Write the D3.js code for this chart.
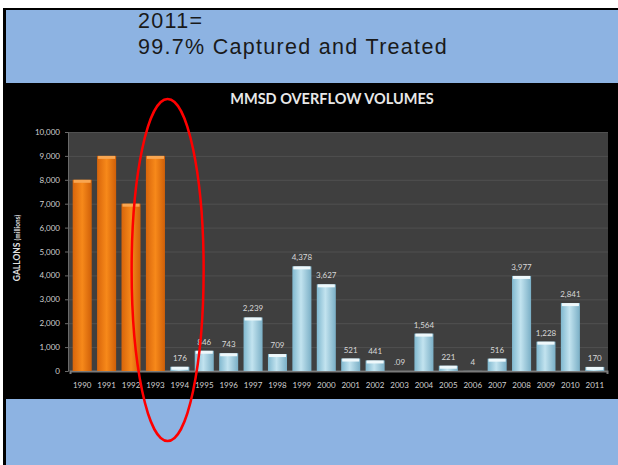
<!DOCTYPE html>
<html>
<head>
<meta charset="utf-8">
<script src="https://cdn.jsdelivr.net/npm/d3@7"></script>
<style>
  body { margin: 0; background: #fff; }
  svg { display: block; }
</style>
</head>
<body>
<svg id="chart" width="618" height="465"></svg>
<script>
// data
const years = ['1990', '1991', '1992', '1993', '1994', '1995', '1996', '1997', '1998', '1999', '2000',
  '2001', '2002', '2003', '2004', '2005', '2006', '2007', '2008', '2009', '2010', '2011'];
const volumes = [8000, 9000, 7000, 9000, 176, 846, 743, 2239, 709, 4378, 3627,
  521, 441, 0.09, 1564, 221, 4, 516, 3977, 1228, 2841, 170];
const valueLabels = ['', '', '', '', '176', '846', '743', '2,239', '709', '4,378', '3,627',
  '521', '441', '.09', '1,564', '221', '4', '516', '3,977', '1,228', '2,841', '170'];
const orangeYears = ['1990', '1991', '1992', '1993'];
const yTicks = [0, 1000, 2000, 3000, 4000, 5000, 6000, 7000, 8000, 9000, 10000];
const headline = ['2011=', '99.7% Captured and Treated'];
const chartTitle = 'MMSD OVERFLOW VOLUMES';

const svg = d3.select('#chart');
const W = 618, H = 465;

// slide background: black frame, blue boxes above and below the chart
svg.append('rect').attr('x', 3).attr('y', 8).attr('width', W - 3).attr('height', H - 8).attr('fill', '#000');
svg.append('rect').attr('x', 6).attr('y', 10).attr('width', W - 6).attr('height', 73).attr('fill', '#8db3e2');
svg.append('rect').attr('x', 6).attr('y', 399).attr('width', W - 6).attr('height', H - 399).attr('fill', '#8db3e2');

const head = svg.append('text')
  .attr('font-family', '"Liberation Sans", Arial, sans-serif')
  .attr('font-size', 21.5)
  .attr('letter-spacing', 1.3)
  .attr('fill', '#1a1a1a');
head.selectAll('tspan')
  .data(headline)
  .enter().append('tspan')
  .attr('x', 138)
  .attr('y', (d, i) => 28 + i * 26)
  .text(d => d);

// chart
const plot = {left: 68, right: 608, top: 132, bottom: 371};

const defs = svg.append('defs');
const blue = defs.append('linearGradient').attr('id', 'gBlue').attr('x1', 0).attr('x2', 1).attr('y1', 0).attr('y2', 0);
blue.append('stop').attr('offset', '0%').attr('stop-color', '#80b8cf');
blue.append('stop').attr('offset', '45%').attr('stop-color', '#c2e3ef');
blue.append('stop').attr('offset', '100%').attr('stop-color', '#7aafc6');
const orange = defs.append('linearGradient').attr('id', 'gOrange').attr('x1', 0).attr('x2', 1).attr('y1', 0).attr('y2', 0);
orange.append('stop').attr('offset', '0%').attr('stop-color', '#d8650b');
orange.append('stop').attr('offset', '50%').attr('stop-color', '#f7891a');
orange.append('stop').attr('offset', '100%').attr('stop-color', '#cf5f08');

const x = d3.scaleBand()
  .domain(years)
  .range([plot.left + 2, plot.right - 1])
  .paddingInner(0.22)
  .paddingOuter(0.11);

const y = d3.scaleLinear()
  .domain([0, 10000])
  .range([plot.bottom, plot.top]);

svg.append('rect')
  .attr('x', plot.left).attr('y', plot.top)
  .attr('width', plot.right - plot.left).attr('height', plot.bottom - plot.top)
  .attr('fill', '#3f3f3f');

// gridlines
svg.append('g')
  .selectAll('line')
  .data(yTicks.slice(1))
  .enter().append('line')
  .attr('x1', plot.left).attr('x2', plot.right)
  .attr('y1', d => y(d) + 0.5).attr('y2', d => y(d) + 0.5)
  .attr('stroke', '#505050');

const axisY = d3.axisLeft(y).tickValues(yTicks).tickFormat(d3.format(',')).tickSize(3).tickPadding(5);
const gy = svg.append('g')
  .attr('transform', `translate(${plot.left},0)`)
  .call(axisY);
gy.select('.domain').attr('stroke', '#6a6a6a');
gy.selectAll('.tick line').attr('stroke', '#6a6a6a');
gy.selectAll('.tick text')
  .attr('fill', '#d0d0d0')
  .attr('font-family', 'Lato, sans-serif')
  .attr('font-size', 8);

const axisX = d3.axisBottom(x).tickSize(3).tickPadding(8);
const gx = svg.append('g')
  .attr('transform', `translate(0,${plot.bottom})`)
  .call(axisX);
gx.select('.domain').attr('stroke', '#7a7a7a').attr('stroke-width', 2);
gx.selectAll('.tick line').remove();
gx.selectAll('.tick text')
  .attr('fill', '#d0d0d0')
  .attr('font-family', 'Lato, sans-serif')
  .attr('font-size', 8);

const isOrange = yr => orangeYears.includes(yr);
const rows = years.map((yr, i) => ({year: yr, value: volumes[i], label: valueLabels[i]}));

const bars = svg.append('g');
bars.selectAll('.bar')
  .data(rows)
  .enter().append('rect')
  .classed('bar', true)
  .attr('x', d => x(d.year))
  .attr('width', x.bandwidth())
  .attr('y', d => y(d.value))
  .attr('height', d => y(0) - y(d.value))
  .attr('fill', d => isOrange(d.year) ? 'url(#gOrange)' : 'url(#gBlue)');

// light cap on the top of each bar
bars.selectAll('.cap')
  .data(rows.filter(d => y(0) - y(d.value) > 1))
  .enter().append('rect')
  .classed('cap', true)
  .attr('x', d => x(d.year) + 1)
  .attr('width', x.bandwidth() - 2)
  .attr('y', d => y(d.value))
  .attr('height', d => Math.min(3, y(0) - y(d.value)))
  .attr('fill', d => isOrange(d.year) ? '#f9a651' : '#eef8fb');

svg.append('g')
  .selectAll('text')
  .data(rows.filter(d => d.label))
  .enter().append('text')
  .attr('x', d => x(d.year) + x.bandwidth() / 2)
  .attr('y', d => y(d.value) - 6)
  .attr('text-anchor', 'middle')
  .attr('fill', '#d8d8d8')
  .attr('font-family', 'Lato, sans-serif')
  .attr('font-size', 8)
  .text(d => d.label);

svg.append('text')
  .attr('x', 332)
  .attr('y', 104)
  .attr('text-anchor', 'middle')
  .attr('fill', '#e8e8e8')
  .attr('font-family', 'Lato, sans-serif')
  .attr('font-weight', 'bold')
  .attr('font-size', 14.5)
  .text(chartTitle);

const yTitle = svg.append('text')
  .attr('transform', 'translate(20,248) rotate(-90)')
  .attr('text-anchor', 'middle')
  .attr('fill', '#e0e0e0')
  .attr('font-family', 'Lato, sans-serif')
  .attr('font-weight', 'bold');
yTitle.append('tspan').attr('font-size', 8.5).text('GALLONS ');
yTitle.append('tspan').attr('font-size', 6.5).text('(millions)');

// red annotation ellipse between the 1993 and 1994 columns
const c93 = x('1993') + x.bandwidth() / 2;
const c94 = x('1994') + x.bandwidth() / 2;
svg.append('ellipse')
  .attr('cx', (c93 + c94) / 2)
  .attr('cy', 270)
  .attr('rx', 36)
  .attr('ry', 171)
  .attr('fill', 'none')
  .attr('stroke', '#ff0000')
  .attr('stroke-width', 2.5);
</script>
</body>
</html>
